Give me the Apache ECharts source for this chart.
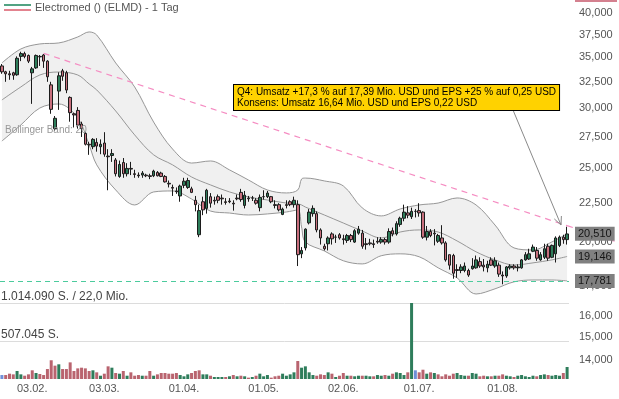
<!DOCTYPE html>
<html lang="de">
<head>
<meta charset="UTF-8">
<title>Electromed (ELMD) - 1 Tag</title>
<script src="https://cdn.jsdelivr.net/npm/echarts@6/dist/echarts.min.js"></script>
<style>
  html, body { margin: 0; padding: 0; background: #fff; }
  #main { width: 619px; height: 399px; }
</style>
</head>
<body>
<div id="main"></div>
<script>
// Handelstage 2025 (Tag des Monats)
var daysJan = [22, 23, 24, 27, 28, 29, 30, 31];
var daysFeb = [3, 4, 5, 6, 7, 10, 11, 12, 13, 14, 18, 19, 20, 21, 24, 25, 26, 27, 28];
var daysMar = [3, 4, 5, 6, 7, 10, 11, 12, 13, 14, 17, 18, 19, 20, 21, 24, 25, 26, 27, 28, 31];
var daysApr = [1, 2, 3, 4, 7, 8, 9, 10, 11, 14, 15, 16, 17, 21, 22, 23, 24, 25, 28, 29, 30];
var daysMay = [1, 2, 5, 6, 7, 8, 9, 12, 13, 14, 15, 16, 19, 20, 21, 22, 23, 27, 28, 29, 30];
var daysJun = [2, 3, 4, 5, 6, 9, 10, 11, 12, 13, 16, 17, 18, 20, 23, 24, 25, 26, 27, 30];
var daysJul = [1, 2, 3, 7, 8, 9, 10, 11, 14, 15, 16, 17, 18, 21, 22, 23, 24, 25, 28, 29, 30, 31];
var daysAug = [1, 4, 5, 6, 7, 8, 11, 12, 13, 14, 15, 18, 19, 20, 21, 22, 25, 26];

var labelDates = ['03.02.', '03.03.', '01.04.', '01.05.', '02.06.', '01.07.', '01.08.'];

var opens = [
  34.1, 33.5, 33.3, 33.4, 33.2, 35.1, 35.4, 35.2, 33.4, 33.9,
  35.1, 35.25, 34.6, 32.2, 28.2, 31.6, 33.6, 33.4, 31.0, 29.5,
  29.8, 28.6, 27.8, 26.9, 26.7, 27.05, 26.7, 27.0, 25.95, 26.0,
  25.65, 24.4, 25.45, 24.6, 25.0, 24.6, 24.5, 24.5, 24.5, 24.45,
  24.45, 24.7, 24.65, 24.4, 23.9, 23.6, 23.35, 23.0, 23.75, 23.6,
  23.5, 22.7, 20.45, 22.6, 22.15, 22.95, 22.7, 22.95, 22.85, 22.6,
  22.65, 22.5, 22.85, 23.25, 22.35, 22.85, 22.85, 22.7, 22.2, 22.95,
  22.95, 22.95, 22.4, 22.4, 21.75, 22.4, 22.6, 22.4, 22.4, 19.3,
  19.65, 21.2, 21.8, 21.8, 20.75, 19.75, 19.9, 20.5, 20.3, 20.45,
  20.2, 20.1, 20.4, 20.0, 20.55, 20.55, 19.9, 19.95, 19.9, 20.05,
  20.0, 20.15, 20.0, 20.7, 20.5, 21.1, 21.5, 21.85, 21.6, 21.95,
  22.0, 21.9, 20.3, 20.65, 20.55, 20.05, 20.25, 19.95, 19.25, 19.2,
  18.4, 18.35, 18.35, 18.35, 18.45, 18.5, 18.85, 18.65, 18.5, 18.95,
  18.6, 18.65, 18.1, 18.05, 18.5, 18.6, 18.5, 18.5, 18.95, 19.0,
  19.45, 19.5, 18.95, 19.1, 19.75, 19.1, 19.3, 19.8, 20.3, 20.15
];
var closes = [
  33.5, 33.3, 33.2, 33.15, 34.9, 35.4, 35.1, 34.6, 33.8, 35.2,
  35.05, 34.6, 33.0, 29.9, 29.1, 33.1, 33.05, 31.7, 29.6, 29.4,
  28.5, 28.2, 26.9, 26.85, 27.3, 26.75, 26.9, 26.1, 25.9, 26.15,
  24.6, 25.3, 24.6, 25.0, 24.95, 24.55, 24.45, 24.65, 24.45, 24.4,
  24.8, 24.45, 24.4, 24.0, 23.85, 23.55, 23.3, 23.7, 24.05, 24.1,
  23.25, 22.4, 22.0, 22.05, 23.4, 22.5, 22.65, 22.7, 22.8, 22.55,
  22.6, 22.45, 22.8, 22.75, 23.05, 22.8, 22.85, 22.5, 22.9, 22.95,
  23.2, 22.6, 22.35, 22.05, 22.1, 22.35, 22.4, 22.7, 19.25, 19.5,
  20.8, 21.9, 22.15, 20.75, 20.25, 19.6, 20.25, 20.2, 20.3, 20.25,
  20.15, 20.4, 20.15, 20.7, 20.8, 19.75, 19.85, 19.9, 19.85, 20.0,
  20.15, 20.0, 20.65, 20.5, 21.15, 21.5, 21.9, 21.7, 21.95, 21.95,
  21.85, 20.3, 20.65, 20.4, 20.5, 20.4, 19.95, 18.95, 18.65, 18.2,
  18.35, 18.55, 18.6, 18.1, 18.6, 18.95, 18.6, 18.55, 18.7, 18.65,
  18.9, 18.15, 18.05, 18.55, 18.6, 18.5, 18.55, 18.95, 19.25, 19.3,
  19.7, 19.05, 19.25, 19.6, 19.05, 19.8, 20.25, 20.3, 20.15, 20.5
];
var lows = [
  33.3, 32.5, 32.7, 32.7, 33.1, 34.6, 34.9, 34.4, 30.4, 33.8,
  34.1, 33.9, 32.5, 29.5, 28.0, 29.85, 32.6, 31.4, 28.8, 28.3,
  28.2, 27.5, 26.8, 26.05, 26.5, 26.3, 26.1, 25.9, 23.4, 25.5,
  24.4, 24.3, 24.3, 24.4, 24.5, 24.3, 24.3, 24.3, 24.35, 24.2,
  24.35, 24.4, 24.35, 23.95, 23.6, 23.0, 23.15, 22.6, 23.55, 23.5,
  23.2, 21.95, 20.3, 21.7, 21.8, 22.2, 22.4, 22.5, 22.4, 22.4,
  22.5, 22.0, 22.7, 22.6, 22.15, 22.6, 22.65, 22.4, 21.95, 22.75,
  22.85, 22.5, 22.15, 21.95, 21.7, 22.15, 22.3, 22.2, 18.6, 19.05,
  19.5, 21.1, 21.6, 20.6, 19.85, 19.5, 19.5, 19.85, 19.95, 20.15,
  19.85, 19.95, 20.0, 19.95, 20.45, 19.6, 19.55, 19.8, 19.65, 19.9,
  19.9, 19.85, 19.9, 20.35, 20.4, 20.95, 21.3, 21.5, 21.45, 21.55,
  21.6, 20.2, 20.1, 20.3, 19.8, 19.95, 19.85, 18.85, 18.4, 17.9,
  17.95, 18.2, 18.25, 18.0, 18.4, 18.45, 18.5, 18.3, 18.25, 18.6,
  18.5, 18.0, 17.6, 17.95, 18.4, 18.4, 18.3, 18.45, 18.9, 18.95,
  19.4, 18.9, 18.9, 19.0, 18.9, 19.05, 18.8, 19.7, 19.9, 19.85
];
var highs = [
  34.3, 33.6, 33.6, 33.5, 35.1, 35.6, 35.6, 35.3, 34.0, 35.3,
  35.25, 35.35, 34.7, 32.5, 29.3, 33.45, 33.8, 33.6, 31.1, 29.6,
  30.1, 28.8, 27.9, 27.1, 27.4, 27.4, 27.3, 27.9, 26.5, 26.5,
  25.8, 25.6, 25.8, 25.4, 25.5, 24.9, 24.7, 24.8, 24.6, 24.6,
  24.9, 24.8, 24.75, 24.5, 24.1, 23.8, 23.6, 23.8, 24.3, 24.3,
  23.65, 23.0, 22.4, 22.95, 23.5, 23.2, 22.95, 23.1, 23.1, 22.85,
  22.85, 22.7, 23.1, 23.5, 23.35, 23.0, 23.0, 22.85, 23.1, 23.4,
  23.35, 23.0, 22.7, 22.5, 22.2, 22.7, 22.7, 22.95, 22.7, 19.7,
  20.85, 22.1, 22.35, 21.95, 20.85, 19.9, 20.35, 20.6, 20.45, 20.55,
  20.45, 20.5, 20.5, 20.8, 21.0, 20.75, 20.25, 20.2, 20.15, 20.3,
  20.3, 20.25, 20.85, 20.9, 21.3, 21.6, 22.4, 22.3, 22.2, 22.1,
  22.5, 21.95, 21.0, 20.8, 20.8, 20.5, 21.05, 20.05, 19.25, 19.3,
  18.7, 18.7, 18.8, 18.45, 19.05, 19.2, 19.1, 19.0, 18.9, 19.1,
  19.1, 18.8, 18.3, 18.6, 18.7, 18.7, 18.7, 19.0, 19.4, 19.6,
  19.85, 19.7, 19.4, 19.9, 19.9, 19.85, 20.35, 20.4, 20.45, 20.95
];
var volumes = [
  53000, 53000, 71000, 62000, 107000, 62000, 44000, 62000, 116000, 80000,
  67000, 53000, 133000, 250000, 178000, 196000, 133000, 133000, 222000, 107000,
  142000, 151000, 142000, 107000, 116000, 89000, 44000, 71000, 169000, 151000,
  80000, 71000, 107000, 44000, 89000, 44000, 53000, 44000, 44000, 107000,
  44000, 62000, 80000, 80000, 71000, 71000, 80000, 53000, 36000, 62000,
  80000, 107000, 116000, 62000, 62000, 44000, 27000, 27000, 27000, 27000,
  36000, 53000, 36000, 44000, 36000, 18000, 27000, 44000, 71000, 36000,
  53000, 18000, 36000, 44000, 71000, 44000, 62000, 89000, 240000, 151000,
  169000, 89000, 53000, 44000, 62000, 53000, 89000, 71000, 27000, 44000,
  80000, 44000, 44000, 36000, 44000, 44000, 44000, 36000, 36000, 53000,
  44000, 53000, 44000, 71000, 89000, 80000, 53000, 89000, 1014090, 116000,
  89000, 124000, 71000, 89000, 80000, 62000, 36000, 62000, 44000, 71000,
  80000, 53000, 44000, 44000, 80000, 71000, 36000, 44000, 36000, 36000,
  44000, 44000, 62000, 44000, 36000, 27000, 44000, 53000, 36000, 27000,
  44000, 36000, 53000, 62000, 53000, 44000, 53000, 44000, 80000, 160000
];

var bandIdx = [0, 5, 10, 15, 20, 23, 25, 30, 35, 40, 45, 50, 55, 60, 65, 70, 75, 78, 79, 80,
  85, 90, 95, 100, 105, 110, 115, 120, 125, 130, 135, 140, 145, 149];
var bbUpper = [34.41, 35.90, 36.45, 36.56, 37.23, 37.80, 37.45, 34.41, 32.00, 28.77, 26.51, 25.41,
  25.57, 24.89, 24.14, 23.42, 23.21, 23.42, 24.21, 24.28, 24.07, 23.71, 22.18, 21.65, 22.11, 22.38,
  22.51, 22.86, 22.38, 21.06, 19.65, 19.53, 20.01, 20.510];
var bbMiddle = [30.76, 32.00, 33.18, 33.48, 33.18, 32.29, 31.71, 29.75, 27.67, 26.05, 25.27, 24.36,
  23.78, 23.28, 22.93, 22.72, 22.51, 22.45, 22.38, 22.24, 21.71, 21.19, 20.68, 20.25, 20.62, 20.75,
  20.62, 20.07, 19.42, 18.95, 18.66, 18.78, 18.95, 19.146];
var bbLower = [27.16, 28.52, 30.02, 30.39, 29.12, 26.85, 25.27, 23.42, 22.38, 23.28, 23.35, 22.79,
  21.97, 21.84, 21.71, 21.78, 21.91, 22.04, 20.94, 20.01, 19.47, 18.90, 18.72, 19.19, 19.30, 19.13,
  18.50, 17.94, 17.09, 17.36, 17.73, 17.83, 17.83, 17.781];

// Abwaertstrend (Index, Kurs)
var trendIdx = [11, 149];
var trendVal = [35.43, 21.02];

var supportLevel = 17.781;
var priceTicks = [40, 37.5, 35, 32.5, 30, 27.5, 25, 22.5, 20, 17.5, 16, 15, 14];

var noteLines = [
  'Q4: Umsatz +17,3 % auf 17,39 Mio. USD und EPS +25 % auf 0,25 USD',
  'Konsens: Umsatz 16,64 Mio. USD und EPS 0,22 USD'
];

var FONT = '"Liberation Sans", Arial, sans-serif';
var NOLINE = 'rgba(0,0,0,0)';

function pad(n) { return n < 10 ? '0' + n : '' + n; }
var dates = [];
[daysJan, daysFeb, daysMar, daysApr, daysMay, daysJun, daysJul, daysAug].forEach(function (arr, m) {
  arr.forEach(function (d) { dates.push(pad(d) + '.' + pad(m + 1) + '.'); });
});

function fmtPrice(v) { return v.toFixed(3).replace('.', ','); }
function fmtThousands(v) { return String(Math.round(v)).replace(/\B(?=(\d{3})+(?!\d))/g, '.'); }

var candleData = opens.map(function (o, i) { return [o, closes[i], lows[i], highs[i]]; });

var volData = volumes.map(function (v, i) {
  var c = '#6f8fd8';
  if (i > 0 && closes[i] > closes[i - 1]) c = '#2e7d5b';
  if (i > 0 && closes[i] < closes[i - 1]) c = '#b9646f';
  return { value: v, itemStyle: { color: c } };
});
var volMax = Math.max.apply(null, volumes);

function pairs(vals) { return bandIdx.map(function (d, k) { return [d, vals[k]]; }); }
var bandWidth = bandIdx.map(function (d, k) { return [d, +(bbUpper[k] - bbLower[k]).toFixed(3)]; });

var last = bandIdx.length - 1;
var tickLines = priceTicks.map(function (v) {
  return { yAxis: v, lineStyle: { color: NOLINE, width: 0 }, label: { formatter: fmtPrice(v) } };
});
function boxLine(v) {
  return {
    yAxis: v, lineStyle: { color: NOLINE, width: 0 },
    label: { formatter: fmtPrice(v), backgroundColor: '#808080', color: '#151515', padding: [2, 3, 1, 3], distance: 6 }
  };
}
var valueLines = [
  { yAxis: supportLevel, lineStyle: { color: '#4ccb9d', type: [5, 4], width: 1 }, label: { show: false } },
  boxLine(bbUpper[last]), boxLine(bbMiddle[last]), boxLine(bbLower[last])
];

var myChart = echarts.init(document.getElementById('main'), null, { renderer: 'canvas' });

var option = {
  animation: false,
  backgroundColor: '#fff',
  grid: [
    { left: -1, top: 0, width: 570, height: 379 },
    { left: -1, top: 303, width: 570, height: 76 }
  ],
  xAxis: [
    { type: 'category', gridIndex: 0, data: dates, show: false },
    {
      type: 'category', gridIndex: 1, data: dates,
      axisLine: { show: false }, axisTick: { show: false },
      axisLabel: {
        color: '#555', fontSize: 11, fontFamily: FONT, margin: 4,
        interval: function (idx, val) { return labelDates.indexOf(val) >= 0; }
      }
    }
  ],
  yAxis: [
    { type: 'log', gridIndex: 0, min: 13.21, max: 41.64, show: false },
    {
      type: 'value', gridIndex: 1, min: 0, max: volMax, interval: volMax / 2,
      axisLine: { show: false }, axisTick: { show: false }, axisLabel: { show: false },
      splitLine: { show: true, showMinLine: false, lineStyle: { color: '#dcdcdc', width: 1 } }
    }
  ],
  series: [
    {
      type: 'line', xAxisIndex: 0, yAxisIndex: 0, data: pairs(bbLower), stack: 'bb',
      smooth: 0.35, symbol: 'none', lineStyle: { color: '#979797', width: 1 }, z: 1, silent: true
    },
    {
      type: 'line', xAxisIndex: 0, yAxisIndex: 0, data: bandWidth, stack: 'bb',
      smooth: 0.35, symbol: 'none', lineStyle: { color: '#979797', width: 1 },
      areaStyle: { color: '#f0f0f0', opacity: 1 }, z: 1, silent: true
    },
    {
      type: 'line', xAxisIndex: 0, yAxisIndex: 0, data: pairs(bbMiddle),
      smooth: 0.35, symbol: 'none', lineStyle: { color: '#979797', width: 1 }, z: 2, silent: true
    },
    {
      type: 'line', xAxisIndex: 0, yAxisIndex: 0, clip: false,
      data: trendIdx.map(function (d, k) { return [d, trendVal[k]]; }),
      symbol: 'none', lineStyle: { color: '#f58cc2', width: 1.2, type: [6, 5] }, z: 3, silent: true
    },
    {
      type: 'candlestick', xAxisIndex: 0, yAxisIndex: 0, data: candleData, barWidth: 3, z: 4, clip: false,
      itemStyle: { color: '#2e7d5a', color0: '#c86f7d', borderColor: '#1c1c1c', borderColor0: '#1c1c1c', borderWidth: 1 },
      markLine: {
        silent: true, symbol: ['none', 'none'], animation: false, precision: 3, z: 6,
        label: { show: true, position: 'end', distance: 10, color: '#555', fontSize: 11, fontFamily: FONT },
        data: tickLines.concat(valueLines)
      }
    },
    {
      type: 'bar', xAxisIndex: 1, yAxisIndex: 1, data: volData, barWidth: 3, z: 2
    }
  ],
  graphic: [
    { type: 'line', shape: { x1: 4, y1: 5, x2: 31, y2: 5 }, style: { stroke: '#52a383', lineWidth: 2 } },
    { type: 'line', shape: { x1: 4, y1: 10, x2: 31, y2: 10 }, style: { stroke: '#e3838f', lineWidth: 2 } },
    { type: 'text', x: 35, y: 8, style: { text: 'Electromed () (ELMD) - 1 Tag', font: '11px ' + FONT, fill: '#555', verticalAlign: 'middle' } },
    { type: 'text', x: 5, y: 130, z: 10, style: { text: 'Bollinger Band: 20', font: '10px ' + FONT, fill: '#999', verticalAlign: 'middle' } },
    { type: 'text', x: 1, y: 297, z: 10, style: { text: fmtThousands(volMax) + ' S. / 22,0 Mio.', font: '12px ' + FONT, fill: '#444', verticalAlign: 'middle' } },
    { type: 'text', x: 1, y: 334.5, z: 10, style: { text: fmtThousands(volMax / 2) + ' S.', font: '12px ' + FONT, fill: '#444', verticalAlign: 'middle' } },
    { type: 'polyline', z: 15, shape: { points: [[513, 110], [561, 225]] }, style: { stroke: '#8a8a8a', lineWidth: 1, fill: null } },
    { type: 'polyline', z: 15, shape: { points: [[554.3, 218.9], [561, 225], [561.4, 216]] }, style: { stroke: '#8a8a8a', lineWidth: 1, fill: null } },
    {
      type: 'text', x: 234, y: 85, z: 20,
      style: {
        text: noteLines.join('\n'), font: '10px ' + FONT, fill: '#000', lineHeight: 11,
        backgroundColor: '#ffd200', borderColor: '#000', borderWidth: 1, padding: [2, 3, 1, 3]
      }
    },
    { type: 'rect', shape: { x: 575, y: 0, width: 42, height: 2 }, style: { fill: '#d4808f' } }
  ]
};

myChart.setOption(option);

// Trendlinie ueber den Plotbereich hinaus bis zum rechten Rand verlaengern
var p0 = myChart.convertToPixel({ gridIndex: 0 }, [trendIdx[0], trendVal[0]]);
var p1 = myChart.convertToPixel({ gridIndex: 0 }, [trendIdx[1], trendVal[1]]);
var slope = (p1[1] - p0[1]) / (p1[0] - p0[0]);
var xEnd = myChart.getWidth();
myChart.setOption({
  graphic: option.graphic.concat([{
    type: 'line', z: 3, silent: true,
    shape: { x1: p1[0], y1: p1[1], x2: xEnd, y2: p1[1] + slope * (xEnd - p1[0]) },
    style: { stroke: '#f58cc2', lineWidth: 1.2, lineDash: [6, 5] }
  }])
});
</script>
